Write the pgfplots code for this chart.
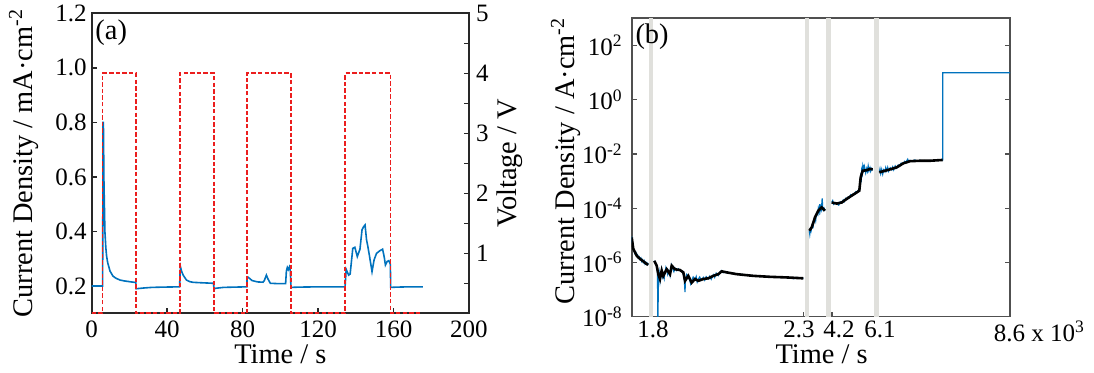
\documentclass[border=0pt]{standalone}
\usepackage{fontspec}
\setmainfont{Liberation Serif}
\usepackage{pgfplots}
\pgfplotsset{compat=1.18}

\definecolor{curblue}{RGB}{0,114,189}
\definecolor{pulsered}{RGB}{235,30,30}
\definecolor{bandgray}{RGB}{224,224,220}
\definecolor{spinea}{RGB}{40,40,40}
\definecolor{spineb}{RGB}{80,80,80}

\pgfplotsset{
  common/.style={
    scale only axis,
    tick align=inside,
    major tick length=2.5pt,
    minor tick length=2.5pt,
    tick label style={font=\fontsize{12.5}{12.5}\selectfont},
    label style={font=\fontsize{14.2}{14.2}\selectfont},
  },
}

\begin{document}
\begin{tikzpicture}[x=1pt,y=1pt]
\useasboundingbox (0,0) rectangle (547,186.5);

% ---------- (a) current density, left axis ----------
\begin{axis}[
  common,
  at={(45.85pt,29.85pt)}, anchor=south west,
  width=188.65pt, height=150pt,
  xmin=0, xmax=200, ymin=0.1, ymax=1.2,
  xtick={0,40,80,120,160,200},
  xticklabels={0,40,80,120,160,200},
  ytick={0.2,0.4,0.6,0.8,1.0,1.2},
  yticklabels={0.2,0.4,0.6,0.8,1.0,1.2},
  xtick pos=left, ytick pos=left,
  xticklabel style={yshift=-0.3pt},
  yticklabel style={xshift=1pt},
  axis line style={spinea, line width=0.9pt},
  tick style={spinea, line width=0.7pt},
  xlabel={Time / s},
  ylabel={Current Density / mA·cm\textsuperscript{-2}},
  xlabel style={at={(rel axis cs:0.5,0)}, anchor=north, inner sep=0pt, yshift=-15.5pt},
  ylabel style={at={(rel axis cs:-0.18,0.5)}, anchor=center, inner sep=0pt},
]
\addplot[curblue, line width=0.8pt] coordinates {
  (0,0.2)(5.8,0.2)(5.9,0.5)(6.0,0.8)(6.2,0.8)(6.5,0.58)(7.0,0.40)(7.5,0.34)
  (7.9,0.31)(8.5,0.285)(9.7,0.255)(11.3,0.236)(13,0.228)(15,0.222)(17,0.219)
  (19,0.217)(21,0.215)(23.4,0.213)(23.6,0.19)(25,0.191)(28,0.193)(32,0.195)
  (38,0.196)(46.6,0.197)(46.8,0.24)(47.1,0.269)(47.6,0.255)(48.5,0.24)
  (50.2,0.222)(52,0.216)(53.8,0.2135)(58,0.212)(64.6,0.21)(64.8,0.19)
  (66,0.192)(70,0.195)(76,0.196)(82.2,0.197)(82.4,0.23)(83,0.232)(85,0.22)
  (88,0.215)(90.8,0.214)(91.5,0.22)(92.6,0.24)(93.5,0.225)(94.7,0.21)
  (98,0.209)(102.8,0.209)(103.2,0.255)(103.7,0.268)(104.2,0.26)(104.8,0.27)
  (105.3,0.255)(105.6,0.2)(105.8,0.195)(110,0.196)(120,0.197)(134.3,0.197)
  (134.9,0.261)(136.2,0.24)(137,0.244)(138.4,0.338)(139.5,0.342)(140.8,0.308)
  (142.2,0.335)(143.3,0.406)(144.2,0.418)(144.9,0.424)(145.7,0.369)
  (146.4,0.345)(147.3,0.308)(148.6,0.253)(149.7,0.296)(151,0.32)(152.9,0.33)
  (154.2,0.335)(155.1,0.305)(155.7,0.277)(156.6,0.29)(157.5,0.293)
  (158.3,0.28)(158.5,0.195)(162,0.196)(168,0.197)(175.5,0.197)
};
\node[anchor=north west, inner sep=0pt, font=\fontsize{14.2}{14.2}\selectfont]
  at (rel axis cs:0.009,0.978) {(a)};
\end{axis}

% ---------- (a) applied voltage, right axis ----------
\begin{axis}[
  common,
  at={(45.85pt,29.85pt)}, anchor=south west,
  width=188.65pt, height=150pt,
  xmin=0, xmax=200, ymin=0, ymax=5,
  axis x line=none, axis y line*=right,
  ytick={1,2,3,4,5}, yticklabels={1,2,3,4,5},
  minor ytick={0.5,1.5,2.5,3.5,4.5},
  axis line style={spinea, line width=0.9pt},
  tick style={spinea, line width=0.7pt},
  ylabel={Voltage / V},
  ylabel style={at={(rel axis cs:1.109,0.5)}, anchor=center, inner sep=0pt},
  clip=false,
]
\addplot[pulsered, line width=0.85pt, dash pattern=on 2.2pt off 1.1pt] coordinates {
  (0,0)(5.8,0)(5.8,4)(23.4,4)(23.4,0)(46.7,0)(46.7,4)(64.7,4)(64.7,0)
  (82.3,0)(82.3,4)(105.6,4)(105.6,0)(134.4,0)(134.4,4)(158.4,4)(158.4,0)(175,0)
};
\end{axis}

% ---------- (b) long-run current density, log scale ----------
\begin{axis}[
  common,
  at={(315.85pt,28.15pt)}, anchor=south west,
  width=189.15pt, height=149.2pt,
  xmin=0, xmax=378.3, ymode=log, ymin=1e-8, ymax=1e3,
  xtick={26,172,200.3,247,378.3},
  xticklabels={},
  extra x ticks={21.3,167.3,207.3,248.3,377.8},
  extra x tick labels={1.8,2.3,4.2,6.1,8.6\rlap{ x 10\textsuperscript{3}}},
  extra x tick style={major tick length=0pt, xticklabel style={yshift=1.5pt}},
  ytick={1e-8,1e-6,1e-4,1e-2,1,1e2},
  yticklabels={10\textsuperscript{-8},10\textsuperscript{-6},10\textsuperscript{-4},
               10\textsuperscript{-2},10\textsuperscript{0},10\textsuperscript{2}},
  yticklabel style={xshift=-1pt},
  yminorticks=false,
  xtick pos=left, ytick pos=both,
  axis line style={spineb, line width=0.8pt},
  tick style={spineb, line width=0.6pt},
  unbounded coords=jump,
  xlabel={Time / s},
  ylabel={Current Density / A·cm\textsuperscript{-2}},
  xlabel style={at={(rel axis cs:0.502,0)}, anchor=north, inner sep=0pt, yshift=-14pt},
  ylabel style={at={(rel axis cs:-0.174,0.522)}, anchor=center, inner sep=0pt},
]
% interruption windows
\addplot[draw=none, fill=bandgray] coordinates {(17.6,1e-8)(21.6,1e-8)(21.6,1e3)(17.6,1e3)} -- cycle;
\addplot[draw=none, fill=bandgray] coordinates {(173.3,1e-8)(177.3,1e-8)(177.3,1e3)(173.3,1e3)} -- cycle;
\addplot[draw=none, fill=bandgray] coordinates {(194.5,1e-8)(199.3,1e-8)(199.3,1e3)(194.5,1e3)} -- cycle;
\addplot[draw=none, fill=bandgray] coordinates {(242.3,1e-8)(246.8,1e-8)(246.8,1e3)(242.3,1e3)} -- cycle;
% raw signal
\addplot[curblue, line width=0.6pt] coordinates {
  (0,9.0e-6)(0.8,5.0e-6)(1.6,3.4e-6)(2.5,2.6e-6)(3.3,2.1e-6)(4.2,2.3e-6)(5,1.75e-6)
  (5.8,1.9e-6)(6.6,1.45e-6)(7.5,1.6e-6)(8.3,1.3e-6)(9.2,1.45e-6)(10,1.1e-6)
  (10.8,1.25e-6)(11.6,1.0e-6)(12.5,1.15e-6)(13.3,0.88e-6)(14.2,1.0e-6)(15,0.85e-6)
  (15.8,0.93e-6)(16.6,0.83e-6)
  (20,nan)
  (22.6,1.15e-6)(23.8,0.95e-6)(25,7.6e-7)(25.8,5e-7)(26.2,1e-9)(26.6,3.0e-7)
  (27.4,4.5e-7)(28.3,2.0e-7)(29.1,3.5e-7)(30,5.5e-7)(30.8,3.0e-7)(31.6,3.8e-7)
  (32.5,2.6e-7)(33.3,4.5e-7)(34.2,6.5e-7)(35,5.2e-7)(36,3.6e-7)(37,4.8e-7)
  (38.3,3.2e-7)(39.2,5.5e-7)(40,8.0e-7)(41,6.0e-7)(42.2,4.6e-7)(43.3,6.2e-7)
  (45,5.0e-7)(46.6,5.8e-7)(48.3,5.0e-7)(50,4.6e-7)(51.6,4.0e-7)(52.5,2.8e-7)
  (53.3,8.0e-8)(53.8,2.4e-7)(55,3.6e-7)(56.6,3.0e-7)(58,2.2e-7)(59,1.6e-7)
  (60,2.0e-7)(61.5,2.9e-7)(63.3,2.3e-7)(64.5,3.0e-7)(65.5,1.9e-7)(66.6,2.4e-7)
  (68,2.9e-7)(69.5,2.2e-7)(71.6,2.8e-7)(73,2.2e-7)(74.5,3.0e-7)(76.6,2.5e-7)
  (78,3.1e-7)(79.5,2.4e-7)(81.6,3.5e-7)(83,2.8e-7)(84.5,4.0e-7)(86.6,3.3e-7)
  (88,4.3e-7)(90,5.0e-7)(91.5,4.2e-7)(93,4.5e-7)(95,4.2e-7)(100,4.0e-7)
  (105,3.7e-7)(110,3.6e-7)(121.6,3.25e-7)(130,3.1e-7)(138.3,2.95e-7)(145,2.9e-7)
  (155,2.8e-7)(160,2.75e-7)(162,2.5e-7)(164,2.8e-7)(171.6,2.6e-7)
  (175,nan)
  (177.6,1.48e-5)(178.1,1.1e-5)(178.6,1.6e-5)(179.3,1.4e-5)(180,1.95e-5)
  (180.8,2.6e-5)(181.5,2.2e-5)(182.3,3.8e-5)(183.3,4.6e-5)(184,3.5e-5)
  (184.5,5.2e-5)(185.5,7e-5)(186.1,6.0e-5)(186.6,9.5e-5)(187.3,7.5e-5)
  (188,1.4e-4)(188.5,8.5e-5)(189,1.1e-4)(189.6,9.0e-5)(190,1.3e-4)
  (190.5,2.3e-4)(191,1.0e-4)(191.6,8.5e-5)(192.4,1.0e-4)(193.3,8.1e-5)
  (197,nan)
  (200,1.62e-4)(201,1.9e-4)(202,1.4e-4)(203.5,1.6e-4)(205,1.45e-4)(207,1.3e-4)
  (208.5,1.7e-4)(210,1.55e-4)(211.5,2.0e-4)(212.5,1.75e-4)(214,2.3e-4)
  (215,2.1e-4)(216.5,2.6e-4)(217.5,2.4e-4)(219,3.1e-4)(220,2.8e-4)
  (221.5,3.4e-4)(222.5,3.2e-4)(224,4.0e-4)(225,3.7e-4)(226.5,4.6e-4)
  (227.6,4.3e-4)(228.3,8.0e-4)(229,1.5e-3)(229.6,1.2e-3)(230,2.4e-3)
  (230.5,1.9e-3)(231,3.2e-3)(231.6,2.1e-3)(232,4.0e-3)(232.6,2.2e-3)
  (233,3.1e-3)(234,2.0e-3)(235,2.9e-3)(235.8,2.3e-3)(236.5,3.6e-3)
  (237.3,2.4e-3)(238.3,3.1e-3)(239,2.3e-3)(240,2.9e-3)(241,2.5e-3)
  (244,nan)
  (247.6,2.1e-3)(248.3,2.8e-3)(249,1.9e-3)(250,2.7e-3)(251,1.8e-3)(252,2.6e-3)
  (253.3,2.2e-3)(254,3.1e-3)(255,2.4e-3)(256,3.2e-3)(257,2.3e-3)(258.5,3.1e-3)
  (260,2.6e-3)(261,3.3e-3)(262,2.6e-3)(263.5,3.6e-3)(265,3.0e-3)(266.5,3.9e-3)
  (268,3.5e-3)(269.5,4.6e-3)(271.6,4.3e-3)(273,5.3e-3)(274,4.8e-3)(276,6.4e-3)
  (277,5.2e-3)(278.3,5.8e-3)(280.5,5.3e-3)(283,6.0e-3)(285.5,5.5e-3)
  (288.3,5.8e-3)(290.5,5.4e-3)(293,5.7e-3)(296,5.4e-3)(298.3,5.7e-3)
  (302,5.6e-3)(305,5.9e-3)(308,5.8e-3)(311,6.0e-3)(311,9.8)(378.3,9.8)
};
% smoothed signal
\addplot[black, line width=1.3pt] coordinates {
  (0,8.3e-6)(1.6,3.16e-6)(5,1.78e-6)(8.3,1.35e-6)(11.6,1.10e-6)(15,8.7e-7)(16.6,8.3e-7)
  (20,nan)
  (22.6,1.15e-6)(25,7.6e-7)(26.6,3.7e-7)(28.3,2.45e-7)(30,5.0e-7)(31.6,3.2e-7)
  (35,5.6e-7)(38.3,3.7e-7)(40,7.6e-7)(43.3,5.6e-7)(48.3,5.25e-7)(51.6,4.3e-7)
  (53.3,2.1e-7)(56.6,3.2e-7)(60,1.8e-7)(63.3,2.45e-7)(66.6,2.1e-7)(71.6,2.45e-7)
  (76.6,2.6e-7)(81.6,3.2e-7)(86.6,3.7e-7)(90,4.7e-7)(95,4.3e-7)(105,3.7e-7)
  (121.6,3.2e-7)(138.3,2.95e-7)(155,2.8e-7)(171.6,2.6e-7)
  (175,nan)
  (177.6,1.48e-5)(180,1.95e-5)(183.3,4.6e-5)(186.6,8.1e-5)(190,1.07e-4)
  (191.6,9.3e-5)(193.3,8.1e-5)
  (197,nan)
  (200,1.62e-4)(205,1.48e-4)(210,1.62e-4)(215,2.2e-4)(220,2.9e-4)(225,3.8e-4)
  (227.6,4.4e-4)(229,1.38e-3)(231,2.4e-3)(235,2.5e-3)(238.3,2.8e-3)(241,2.7e-3)
  (244,nan)
  (247.6,2.1e-3)(253.3,2.4e-3)(260,2.8e-3)(265,3.2e-3)(271.6,4.5e-3)
  (278.3,5.4e-3)(288.3,5.6e-3)(298.3,5.6e-3)(311,6.0e-3)
};
\node[anchor=north west, inner sep=0pt, font=\fontsize{14.2}{14.2}\selectfont]
  at (rel axis cs:0.009,0.984) {(b)};
\end{axis}
\end{tikzpicture}
\end{document}
